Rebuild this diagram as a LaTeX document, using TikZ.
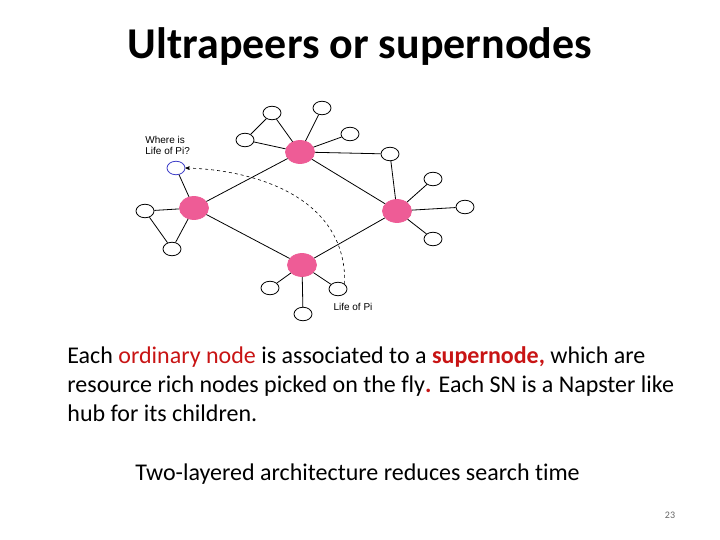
\documentclass[tikz,border=0pt]{standalone}
\usepackage{fontspec}
\setmainfont{Carlito}[Ligatures=CommonOff]
\newfontfamily\arialfont{Liberation Sans}
\usetikzlibrary{arrows,shapes.geometric}
\definecolor{snpink}{RGB}{238,92,150}
\definecolor{qblue}{RGB}{60,60,200}
\definecolor{hired}{RGB}{200,20,20}
\begin{document}
\begin{tikzpicture}[x=1pt,y=-1pt,>=stealth',line width=0.8pt]
		\tikzstyle{peer}=[ellipse,draw=black,fill=white,minimum width=18pt,minimum height=13.5pt,inner sep=0pt]
		\tikzstyle{super}=[ellipse,fill=snpink,draw=snpink,minimum width=29pt,minimum height=23pt,inner sep=0pt]
		\tikzstyle{slide}=[inner sep=0pt,anchor=base west,font=\fontsize{24}{29}\selectfont]
		\useasboundingbox (0,0) rectangle (720,540);
		% title
		\node[inner sep=0pt,anchor=base,font=\fontsize{44}{50}\selectfont\bfseries] (title) at (360,59) {Ultrapeers or supernodes};
		% supernodes
		\node[super] (T) at (300,152) {};
		\node[super] (L) at (194,208) {};
		\node[super] (R) at (397,211) {};
		\node[super] (B) at (302,265) {};
		% ordinary nodes
		\node[peer] (t1) at (272,113) {};
		\node[peer] (t2) at (322,108) {};
		\node[peer] (t3) at (350,134) {};
		\node[peer] (t4) at (245,140) {};
		\node[peer] (t5) at (390,154) {};
		\node[peer,draw=qblue] (Q) at (176,168) {};
		\node[peer] (l1) at (145,211) {};
		\node[peer] (l2) at (172,249) {};
		\node[peer] (r1) at (433,179) {};
		\node[peer] (r2) at (465,207) {};
		\node[peer] (r3) at (433,239) {};
		\node[peer] (b1) at (270,288) {};
		\node[peer] (b2) at (303,314) {};
		\node[peer] (b3) at (338,289) {};
		\path
		(T) edge (L)
			edge (R)
			edge (t1)
			edge (t2)
			edge (t3)
			edge (t4)
			edge (t5)
		(B) edge (L)
			edge (R)
			edge (b1)
			edge (b2)
			edge (b3)
		(L) edge (Q)
			edge (l1)
			edge (l2)
		(R) edge (t5)
			edge (r1)
			edge (r2)
			edge (r3)
		(t1) edge (t4)
		(l1) edge (l2);
		% query
		\draw[->,dashed,semithick] (b3.north east) .. controls (347,200) and (260,170) .. (Q.east);
		\node[inner sep=0pt,anchor=base west,align=left,font=\arialfont\fontsize{10}{11.5}\selectfont] (ask) at (145,155) {Where is\\Life of Pi?};
		\node[inner sep=0pt,font=\arialfont\fontsize{10}{12}\selectfont] (ans) at (353,307) {Life of Pi};
		% text
		\node[slide] (p1) at (67,363) {Each \textcolor{hired}{ordinary node} is associated to a \textcolor{hired}{\bfseries supernode,} which are};
		\node[slide] (p2) at (67,392) {resource rich nodes picked on the fly\textcolor{hired}{\bfseries .} Each SN is a Napster like};
		\node[slide] (p3) at (67,421) {hub for its children.};
		\node[slide] (p4) at (135,480) {Two-layered architecture reduces search time};
		\node[inner sep=0pt,text=black!60,font=\fontsize{10}{12}\selectfont] (num) at (670,515) {23};
\end{tikzpicture}
\end{document}
